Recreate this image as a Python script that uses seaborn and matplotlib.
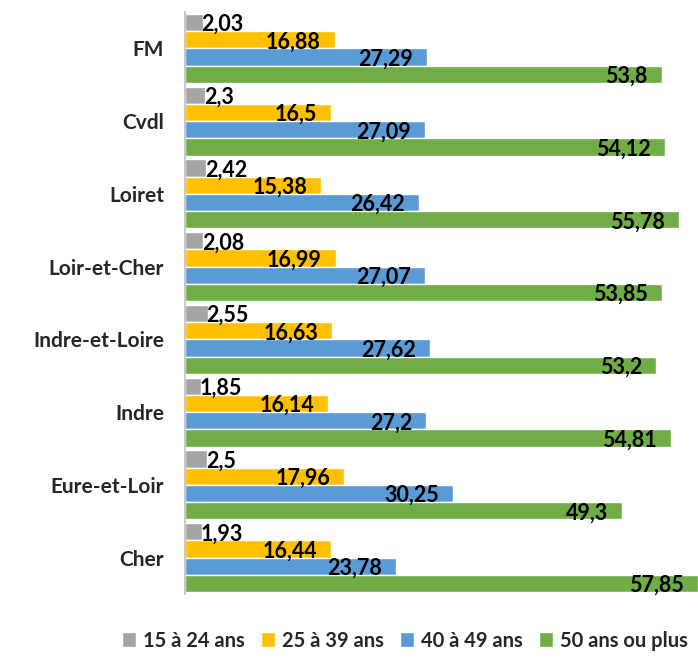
import pandas as pd
import matplotlib.pyplot as plt
import seaborn as sns

zones = ["FM", "Cvdl", "Loiret", "Loir-et-Cher", "Indre-et-Loire", "Indre", "Eure-et-Loir", "Cher"]
ages = ["15 à 24 ans", "25 à 39 ans", "40 à 49 ans", "50 ans ou plus"]

age_15_24 = [2.03, 2.3, 2.42, 2.08, 2.55, 1.85, 2.5, 1.93]
age_25_39 = [16.88, 16.5, 15.38, 16.99, 16.63, 16.14, 17.96, 16.44]
age_40_49 = [27.29, 27.09, 26.42, 27.07, 27.62, 27.2, 30.25, 23.78]
age_50_plus = [53.8, 54.12, 55.78, 53.85, 53.2, 54.81, 49.3, 57.85]

colors = ["#A5A5A5", "#FFC000", "#5B9BD5", "#70AD47"]

rows = []
for age, vals in zip(ages, [age_15_24, age_25_39, age_40_49, age_50_plus]):
    for z, v in zip(zones, vals):
        rows.append({"zone": z, "age": age, "val": v})
df = pd.DataFrame(rows)

sns.set_style("white")
plt.rcParams['font.family'] = ['Lato', 'DejaVu Sans']

fig = plt.figure(figsize=(6.98, 6.59), dpi=100)
ax = fig.add_axes([0.265, 1 - 594 / 659, 0.735, 582 / 659])

sns.barplot(data=df, y="zone", x="val", hue="age", orient="h", order=zones,
            hue_order=ages, palette=colors, width=0.95, saturation=1,
            errorbar=None, ax=ax, legend=True)

ax.set_xlim(0, 57.9)
ax.set_ylim(7.5, -0.5)
ax.set_xlabel("")
ax.set_ylabel("")
ax.set_xticks([])
for s in ["top", "right", "bottom"]:
    ax.spines[s].set_visible(False)
ax.spines["left"].set_color("#BFBFBF")
ax.spines["left"].set_linewidth(1.2)
ax.tick_params(axis="y", length=0, pad=15)
for lab in ax.get_yticklabels():
    lab.set_fontweight("bold")
    lab.set_fontsize(15)

# value labels, decimal comma
for ci, cont in enumerate(ax.containers):
    for p in cont.patches:
        w = p.get_width()
        yc = p.get_y() + p.get_height() / 2
        txt = f"{w:g}".replace(".", ",")
        if ci == 0:
            ax.annotate(txt, (w, yc), xytext=(-1, -1.5), textcoords="offset points",
                        ha="left", va="center", fontsize=15.5, fontweight="bold", color="black")
        else:
            ax.annotate(txt, (w, yc), xytext=(-10, -1.5), textcoords="offset points",
                        ha="right", va="center", fontsize=15.5, fontweight="bold", color="black")

handles, labels = ax.get_legend_handles_labels()
ax.get_legend().remove()
fig.legend(handles, labels, loc="center", bbox_to_anchor=(0.58, 0.028), ncol=4,
           frameon=False, handlelength=0.7, handleheight=0.7, handletextpad=0.35,
           columnspacing=0.8, prop={"weight": "bold", "size": 14.5})

fig.savefig("out.png", dpi=100)
